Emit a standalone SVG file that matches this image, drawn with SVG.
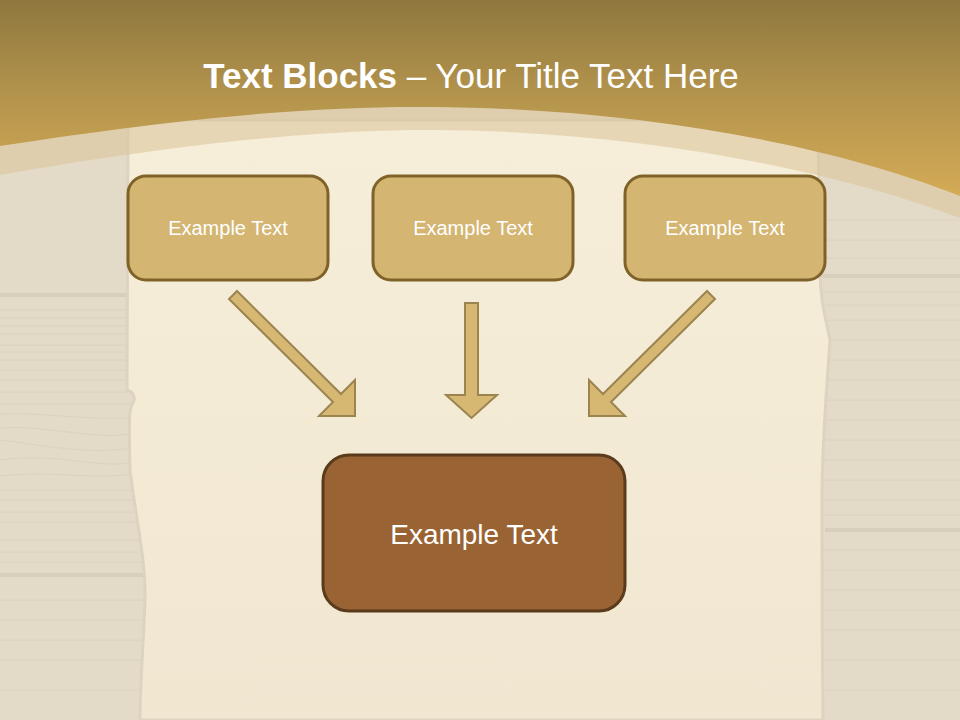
<svg xmlns="http://www.w3.org/2000/svg" width="960" height="720" viewBox="0 0 960 720">
  <defs>
    <linearGradient id="gold" x1="0" y1="0" x2="0" y2="1" gradientUnits="objectBoundingBox">
      <stop offset="0" stop-color="#8e773e"/>
      <stop offset="0.45" stop-color="#b1924c"/>
      <stop offset="1" stop-color="#d4ab56"/>
    </linearGradient>
    <linearGradient id="parch" x1="0" y1="0" x2="0" y2="1">
      <stop offset="0" stop-color="#f6eed9"/>
      <stop offset="1" stop-color="#f1e7d1"/>
    </linearGradient>
    <style>
      .wood { fill: #e3dac8; }
      .grain { stroke: #d6cdbb; stroke-width: 1; fill: none; opacity: 0.7; }
      .seam { stroke: #d2c9b6; stroke-width: 4; fill: none; opacity: 0.7; }
      .small { fill: #d4b572; stroke: #7f6228; stroke-width: 3; }
      .big { fill: #996333; stroke: #5a3b1c; stroke-width: 3; }
      .arrow { fill: #d6b872; stroke: #9c8451; stroke-width: 2; stroke-linejoin: miter; }
      .lbl { font-family: "Liberation Sans", Arial, sans-serif; fill: #ffffff; text-anchor: middle; }
    </style>
  </defs>

  <!-- background wood -->
  <rect class="wood" x="0" y="0" width="960" height="720"/>
  <g id="grain">
    <path class="seam" d="M0,295 H140"/>
    <path class="seam" d="M0,575 H145"/>
    <path class="seam" d="M820,276 H960"/>
    <path class="seam" d="M825,530 H960"/>
    <path class="grain" d="M0,310 H130 M0,318 H130 M0,326 H132 M0,334 H130 M0,345 H132 M0,352 H130 M0,360 H133 M0,370 H132 M0,380 H134 M0,392 H135 M0,404 H134 M0,414 C40,412 80,420 130,418 M0,428 C50,425 90,440 130,434 M0,440 C40,445 90,455 132,448 M0,460 C60,452 100,470 135,462 M0,476 C50,470 90,480 136,474 M0,490 H138 M0,500 H138 M0,512 H140 M0,522 H140 M0,540 H142 M0,552 H142 M0,562 H143 M0,600 H145 M0,620 H145 M0,640 H144 M0,660 H143 M0,690 H142"/>
    <path class="grain" d="M822,220 H960 M822,240 H960 M822,258 H960 M822,292 H960 M822,305 H960 M826,320 H960 M828,340 H960 M825,360 H960 M824,380 H960 M822,400 H960 M822,420 H960 M822,440 H960 M822,460 H960 M822,480 H960 M822,500 H960 M822,515 H960 M823,550 H960 M823,570 H960 M823,590 H960 M823,610 H960 M823,630 H960 M823,660 H960 M823,690 H960"/>
  </g>

  <!-- parchment -->
  <path fill="url(#parch)" stroke="#ddd3c0" stroke-width="3" d="M128,120 L127,390 C133,392 137,398 132,405 C129,410 129,420 130,470 C136,520 146,560 145,600 C143,650 140,690 140,720 L823,720 C822,650 822,560 822,500 C822,440 826,400 830,340 C826,320 820,300 820,270 L818,120 Z"/>

  <!-- top band -->
  <path fill="#dcc79c" opacity="0.6" d="M0,0 H960 V218 C820,165 620,130 430,130 C330,130 200,140 0,175 Z"/>
  <path fill="url(#gold)" d="M0,0 H960 V196 C820,140 620,108 430,107 C330,106 200,115 0,146 Z"/>

  <!-- title -->
  <text x="471" y="88" font-family="Liberation Sans, Arial, sans-serif" font-size="35" fill="#ffffff" text-anchor="middle"><tspan font-weight="bold">Text Blocks</tspan> – Your Title Text Here</text>

  <!-- nodes -->
  <g id="node1">
    <rect class="small" x="128" y="176" width="200" height="104" rx="18"/>
    <text class="lbl" x="228" y="235" font-size="20">Example Text</text>
  </g>
  <g id="node2">
    <rect class="small" x="373" y="176" width="200" height="104" rx="18"/>
    <text class="lbl" x="473" y="235" font-size="20">Example Text</text>
  </g>
  <g id="node3">
    <rect class="small" x="625" y="176" width="200" height="104" rx="18"/>
    <text class="lbl" x="725" y="235" font-size="20">Example Text</text>
  </g>
  <g id="node4">
    <rect class="big" x="323" y="455" width="302" height="156" rx="26"/>
    <text class="lbl" x="474" y="544" font-size="28">Example Text</text>
  </g>

  <!-- connectors -->
  <g id="connectors">
    <polygon class="arrow" points="237,291 341,394 355,380 355,416 319,416 333,402 229,299"/>
    <polygon class="arrow" points="465,303 478,303 478,395 497,395 471.5,418 446,395 465,395"/>
    <polygon class="arrow" points="707,291 603,394 589,380 589,416 625,416 611,402 715,299"/>
  </g>
</svg>
